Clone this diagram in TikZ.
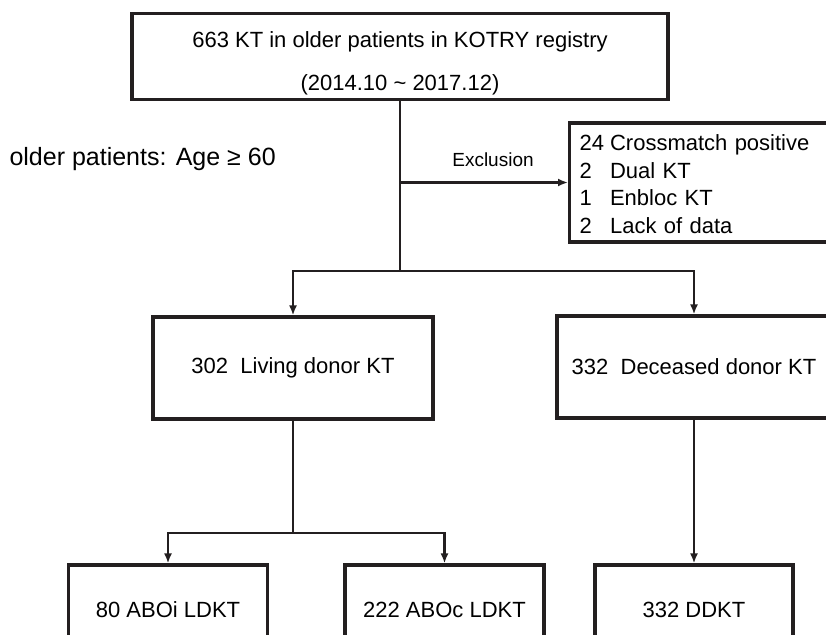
\documentclass[tikz,border=0pt]{standalone}
\usepackage{fontspec}
\setmainfont{Liberation Sans}
\usetikzlibrary{arrows.meta}
\definecolor{ink}{RGB}{35,31,32}
\begin{document}
\begin{tikzpicture}[x=1pt,y=-1pt,
  box/.style={draw=ink,line width=3.2pt,inner sep=0pt,font=\fontsize{22}{26}\selectfont},
  link/.style={draw=ink,line width=2.2pt},
  arr/.style={link,-{Latex[length=10pt,width=8pt]}}]
\useasboundingbox(0,0)rectangle(826,634);
\clip(0,0)rectangle(826,634);
%boxes
\node[box,minimum width=536pt,minimum height=85pt,font=\fontsize{22}{43}\selectfont](top)at(400,56.5){\raisebox{-4pt}[\height][\depth]{\begin{tabular}{@{}c@{}}663 KT in older patients in KOTRY registry\\(2014.10 \textasciitilde{} 2017.12)\end{tabular}}};
\node[box,minimum width=262pt,minimum height=119pt,anchor=west,inner xsep=10pt,text width=242pt,font=\fontsize{22}{27.7}\selectfont](exc)at(568,182.5){\raisebox{-4pt}[\height][\depth]{\begin{tabular}{@{}l@{\hspace{6pt}}l@{}}24&Crossmatch positive\\2&Dual KT\\1&Enbloc KT\\2&Lack of data\end{tabular}}};
\node[box,minimum width=280pt,minimum height=102pt](live)at(293,368){302\ \ Living donor KT};
\node[box,minimum width=274pt,minimum height=102pt](dec)at(694,367){332\ \ Deceased donor KT};
\node[box,minimum width=199pt,minimum height=90pt](aboi)at(168,610){80 ABOi LDKT};
\node[box,minimum width=199pt,minimum height=90pt](aboc)at(444.5,610){222 ABOc LDKT};
\node[box,minimum width=198pt,minimum height=90pt](ddkt)at(694,610){332 DDKT};
%labels
\node[anchor=west,font=\fontsize{25}{30}\selectfont](age)at(6,159){older patients: Age ≥ 60};
\node[font=\fontsize{19}{22}\selectfont](exlab)at(493,160){Exclusion};
%arrows
\coordinate(fork)at(400,271);
\coordinate(fork2)at(293,533);
\draw[link](top.south)--(fork);
\draw[arr](top.south|-exc.west)--(exc.west);
\draw[arr](fork)-|(live.north);
\draw[arr](fork)-|(dec.north);
\draw[link](live.south)--(fork2);
\draw[arr](fork2)-|(aboi.north);
\draw[arr](fork2)-|(aboc.north);
\draw[arr](dec.south)--(ddkt.north);
\end{tikzpicture}
\end{document}
